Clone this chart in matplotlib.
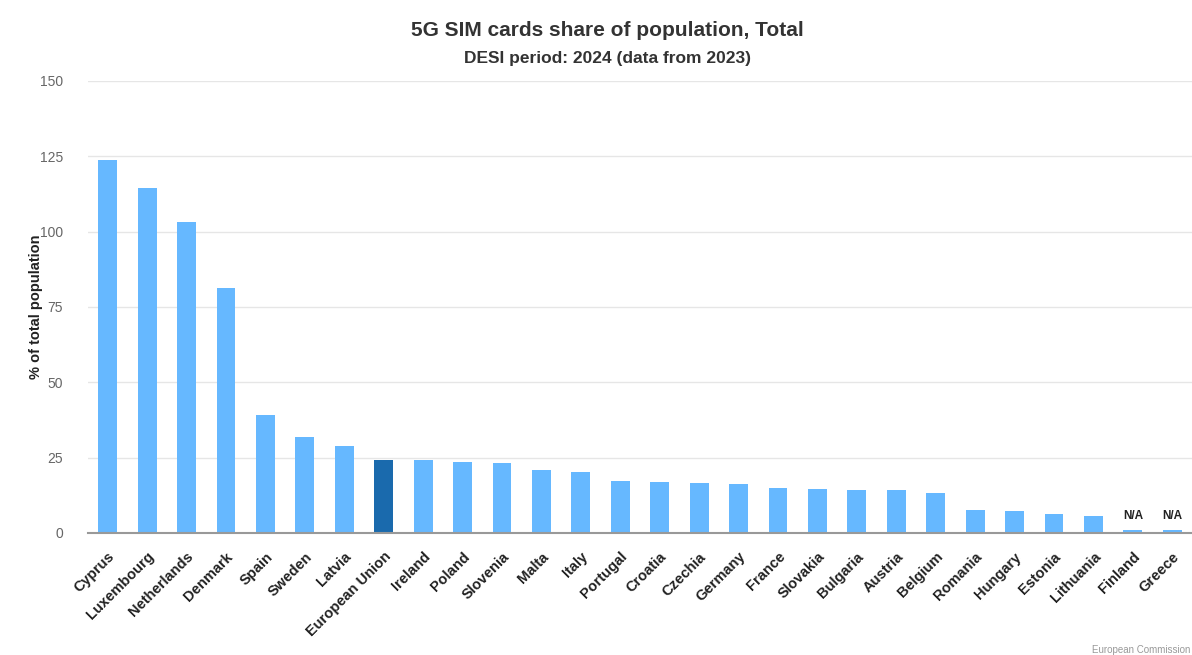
import numpy as np
import matplotlib.pyplot as plt

plt.rcParams['font.family'] = ['Liberation Sans', 'DejaVu Sans']

countries = ['Cyprus', 'Luxembourg', 'Netherlands', 'Denmark', 'Spain', 'Sweden',
             'Latvia', 'European Union', 'Ireland', 'Poland', 'Slovenia', 'Malta',
             'Italy', 'Portugal', 'Croatia', 'Czechia', 'Germany', 'France',
             'Slovakia', 'Bulgaria', 'Austria', 'Belgium', 'Romania', 'Hungary',
             'Estonia', 'Lithuania', 'Finland', 'Greece']
share = [123.8, 114.5, 103.2, 81.3, 39.2, 31.9, 28.9, 24.2, 24.2, 23.6, 23.2,
         20.9, 20.2, 17.3, 16.9, 16.6, 16.3, 14.9, 14.6, 14.3, 14.3, 13.3,
         7.6, 7.3, 6.3, 5.6, np.nan, np.nan]

light = '#66b8ff'
dark = '#1a6aad'
na_stub = 1.0

x = np.arange(len(countries))
vals = np.array(share, dtype=float)
missing = np.isnan(vals)
heights = np.where(missing, na_stub, vals)
colors = [dark if c == 'European Union' else light for c in countries]

fig = plt.figure(figsize=(11.92, 6.55), dpi=100)
ax = fig.add_axes([88 / 1192, 1 - 533 / 655, 1 - 88 / 1192, (533 - 81) / 655])

ax.bar(x, heights, width=0.48, color=colors, zorder=3)

for xi, h, m in zip(x, heights, missing):
    if m:
        ax.text(xi, h + 2.5, 'N/A', ha='center', va='bottom', fontsize=8.5,
                fontweight='bold', color='#222222')

ax.set_xlim(-0.5, len(countries) - 0.5)
ax.set_ylim(0, 150)
ax.set_yticks([0, 25, 50, 75, 100, 125, 150])
ax.yaxis.grid(True, color='#e6e6e6', linewidth=1, zorder=0)
ax.set_axisbelow(True)
for s in ['top', 'right', 'left']:
    ax.spines[s].set_visible(False)
ax.spines['bottom'].set_color('#999999')
ax.spines['bottom'].set_linewidth(1.5)
ax.spines['bottom'].set_zorder(4)
ax.tick_params(axis='y', length=0, labelsize=10, labelcolor='#666666', pad=18)
ax.tick_params(axis='x', length=0, pad=12)
ax.set_xticks(x)
ax.set_xticklabels(countries, rotation=45, ha='right', rotation_mode='anchor',
                   fontsize=10.5, fontweight='bold', color='#222222')

ax.set_ylabel('% of total population', fontsize=10.5, fontweight='bold',
              color='#222222', labelpad=-2)

fig.text(607 / 1192, 1 - 31 / 655, '5G SIM cards share of population, Total',
         ha='center', va='center', fontsize=15, fontweight='bold', color='#333333')
fig.text(607 / 1192, 1 - 58 / 655, 'DESI period: 2024 (data from 2023)',
         ha='center', va='center', fontsize=12.5, fontweight='bold', color='#333333')
fig.text(1190 / 1192, 1 - 650 / 655, 'European Commission', ha='right',
         va='center', fontsize=7, color='#999999')

fig.savefig('out.png', dpi=100)
